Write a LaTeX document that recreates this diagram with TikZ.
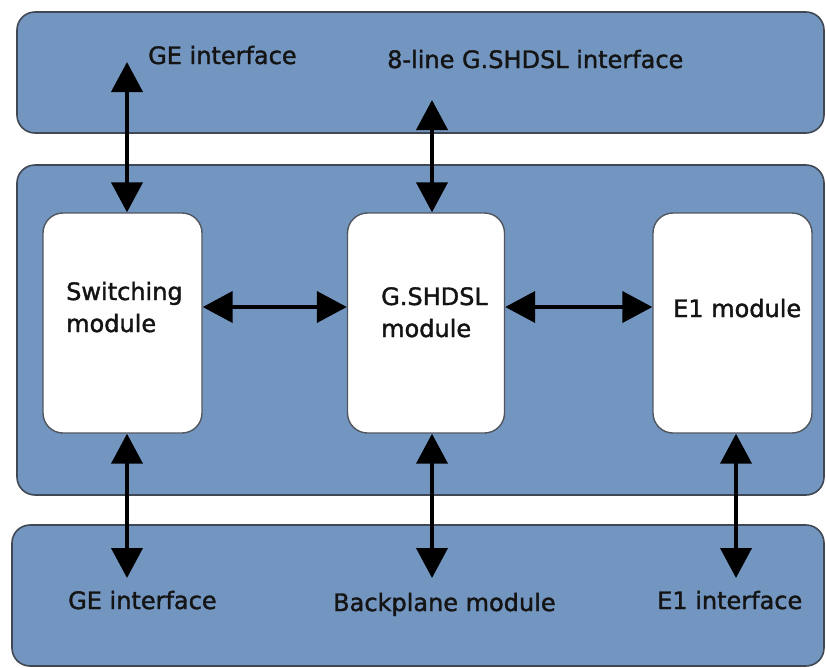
\documentclass[tikz,border=0pt]{standalone}
\usepackage{fontspec}
\setmainfont{DejaVu Sans}[BoldFont=DejaVu Sans, BoldFeatures={FakeBold=1.5}]
\usetikzlibrary{arrows.meta}
\definecolor{panelblue}{RGB}{115,150,193}
\definecolor{panelline}{RGB}{64,72,84}
\definecolor{boxline}{RGB}{80,86,94}
\tikzset{
  panel/.style={draw=panelline, line width=1.6pt, fill=panelblue, rounded corners=18pt},
  modbox/.style={draw=boxline, line width=1.4pt, fill=white, rounded corners=20pt},
  lbl/.style={anchor=base west, inner sep=0pt, font=\fontsize{24}{33}\selectfont\bfseries, text=black!92},
  link/.style={line width=4pt, {Triangle[length=30pt,width=31pt]}-{Triangle[length=30pt,width=31pt]}}
}
\begin{document}
\begin{tikzpicture}[x=1pt,y=-1pt]
\useasboundingbox (0,0) rectangle (826,667);
% three layers
\draw[panel] (17,12) rectangle (824,133);
\draw[panel] (17,165) rectangle (824,495);
\draw[panel] (12,525) rectangle (824,666);
% modules
\node[modbox, minimum width=159pt, minimum height=220pt] (sw) at (122.5,323) {};
\node[modbox, minimum width=157pt, minimum height=220pt] (gs) at (426,323) {};
\node[modbox, minimum width=159pt, minimum height=220pt] (e1) at (732.5,323) {};
% labels
\node[lbl] (geTop) at (148,64) {GE interface};
\node[lbl] (gsTop) at (387,68) {8-line G.SHDSL interface};
\node[lbl] (swA) at (66,300) {Switching};
\node[lbl] (swB) at (66,332) {module};
\node[lbl] (gsA) at (381,305) {G.SHDSL};
\node[lbl] (gsB) at (381,337) {module};
\node[lbl] (e1A) at (673,317) {E1 module};
\node[lbl] (geBot) at (68,609) {GE interface};
\node[lbl] (bp) at (333,611) {Backplane module};
\node[lbl] (e1Bot) at (657,609) {E1 interface};
% free ends of the external links
\coordinate (geTopEnd) at (127,62);
\coordinate (gsTopEnd) at (432,100);
\coordinate (geBotEnd) at (127,578);
\coordinate (bpEnd) at (432,578);
\coordinate (e1BotEnd) at (736,578);
% links
\draw[link] (geTopEnd) -- (geTopEnd |- sw.north);
\draw[link] (gsTopEnd) -- (gsTopEnd |- gs.north);
\draw[link] (geBotEnd |- sw.south) -- (geBotEnd);
\draw[link] (bpEnd |- gs.south) -- (bpEnd);
\draw[link] (e1BotEnd |- e1.south) -- (e1BotEnd);
\draw[link] ([yshift=16pt]sw.east) -- ([yshift=16pt]gs.west);
\draw[link] ([yshift=16pt]gs.east) -- ([yshift=16pt]e1.west);
\end{tikzpicture}
\end{document}
